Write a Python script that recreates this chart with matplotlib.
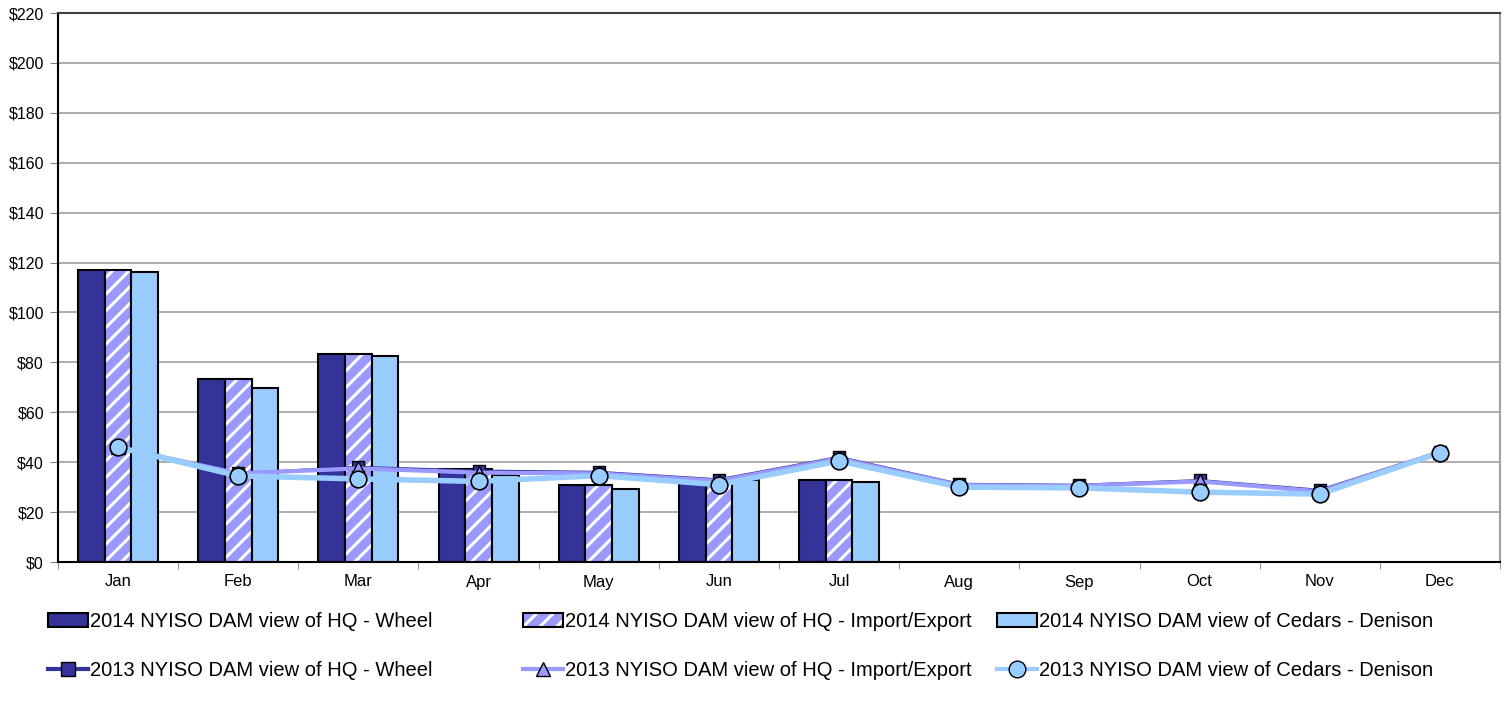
import matplotlib
matplotlib.use("Agg")
from matplotlib import pyplot as plt
from matplotlib.patches import Patch
from matplotlib.lines import Line2D
import numpy as np

plt.rcParams['font.family'] = ['Liberation Sans', 'DejaVu Sans']
plt.rcParams['hatch.linewidth'] = 2.2

months = ["Jan", "Feb", "Mar", "Apr", "May", "Jun",
          "Jul", "Aug", "Sep", "Oct", "Nov", "Dec"]

# 2014 bars (Jan-Jul only)
wheel_2014 = [117.0, 73.3, 83.2, 37.3, 30.7, 31.5, 32.8]
impexp_2014 = [117.0, 73.3, 83.2, 37.3, 30.7, 31.5, 32.8]
cedars_2014 = [116.3, 69.7, 82.5, 35.0, 29.2, 32.7, 31.9]

# 2013 lines
wheel_2013 = [46.0, 35.5, 38.0, 36.5, 36.0, 33.0, 42.0, 31.2, 30.8, 32.7, 28.8, 44.2]
impexp_2013 = [46.0, 35.5, 37.5, 35.8, 35.5, 32.5, 41.5, 30.8, 30.5, 32.3, 28.3, 44.0]
cedars_2013 = [46.0, 34.5, 33.3, 32.3, 34.6, 31.0, 40.5, 30.0, 29.7, 28.0, 27.2, 43.8]

labels = ["2014 NYISO DAM view of HQ - Wheel",
          "2014 NYISO DAM view of HQ - Import/Export",
          "2014 NYISO DAM view of Cedars - Denison",
          "2013 NYISO DAM view of HQ - Wheel",
          "2013 NYISO DAM view of HQ - Import/Export",
          "2013 NYISO DAM view of Cedars - Denison"]

NAVY = "#333399"
LAV = "#9999FF"
LBLUE = "#99CCFF"

fig = plt.figure(figsize=(15.07, 7.04), dpi=100)
ax = fig.add_axes([58 / 1507, 142 / 704, 1442 / 1507, 549 / 704])

x = np.arange(len(months))
xb = np.arange(len(wheel_2014))
w = 0.222

ax.bar(xb - w, wheel_2014, w, color=NAVY, edgecolor="black", linewidth=1.5, zorder=2)
ax.bar(xb, impexp_2014, w, color=LAV, edgecolor="white", hatch="//", linewidth=0, zorder=2)
ax.bar(xb, impexp_2014, w, fill=False, edgecolor="black", linewidth=1.5, zorder=2)
ax.bar(xb + w, cedars_2014, w, color=LBLUE, edgecolor="black", linewidth=1.5, zorder=2)

ax.plot(x, wheel_2013, color=NAVY, lw=2, marker="s", ms=9,
        mfc=NAVY, mec="black", mew=1, zorder=3)
ax.plot(x, impexp_2013, color=LAV, lw=3, marker="^", ms=10,
        mfc=LAV, mec="black", mew=1, zorder=4)
ax.plot(x, cedars_2013, color=LBLUE, lw=4, marker="o", ms=12,
        mfc=LBLUE, mec="black", mew=1.2, zorder=5)

ax.set_xlim(-0.5, 11.5)
ax.set_ylim(0, 220)
ax.set_yticks(np.arange(0, 221, 20))
ax.set_yticklabels(["$%d" % v for v in range(0, 221, 20)], fontsize=11.5)
ax.set_xticks(x)
ax.set_xticklabels(months, fontsize=12)
ax.set_xticks(np.arange(-0.5, 12, 1), minor=True)
ax.tick_params(axis="x", which="major", length=0, pad=9)
ax.tick_params(axis="x", which="minor", length=5, color="#808080")
ax.tick_params(axis="y", length=6, color="#808080", pad=4)
ax.yaxis.grid(True, color="#a0a0a0", lw=1.2, zorder=0)
ax.set_axisbelow(True)
for s in ["left", "bottom"]:
    ax.spines[s].set_color("black")
    ax.spines[s].set_linewidth(1.5)
ax.spines["top"].set_color("#404040")
ax.spines["top"].set_linewidth(1.5)
ax.spines["right"].set_color("#a0a0a0")
ax.spines["right"].set_linewidth(1.5)

h_bar1 = Patch(facecolor=NAVY, edgecolor="black", linewidth=1.5)
h_bar2 = (Patch(facecolor=LAV, edgecolor="white", hatch="//", linewidth=0),
          Patch(fill=False, edgecolor="black", linewidth=1.5))
h_bar3 = Patch(facecolor=LBLUE, edgecolor="black", linewidth=1.5)
h_l1 = Line2D([], [], color=NAVY, lw=3, marker="s", ms=10, mfc=NAVY, mec="black")
h_l2 = Line2D([], [], color=LAV, lw=3, marker="^", ms=10, mfc=LAV, mec="black")
h_l3 = Line2D([], [], color=LBLUE, lw=3, marker="o", ms=12, mfc=LBLUE, mec="black")

groups = [([h_bar1, h_l1], [labels[0], labels[3]], 48),
          ([h_bar2, h_l2], [labels[1], labels[4]], 523),
          ([h_bar3, h_l3], [labels[2], labels[5]], 997)]
for hs, ls, px in groups:
    fig.legend(hs, ls, loc="upper left", bbox_to_anchor=(px / 1507, 92 / 704),
               frameon=False, fontsize=14.5, handlelength=2.0, handleheight=0.7,
               handletextpad=0.1, labelspacing=1.5, borderpad=0, borderaxespad=0)

fig.savefig("out.png", dpi=100)
